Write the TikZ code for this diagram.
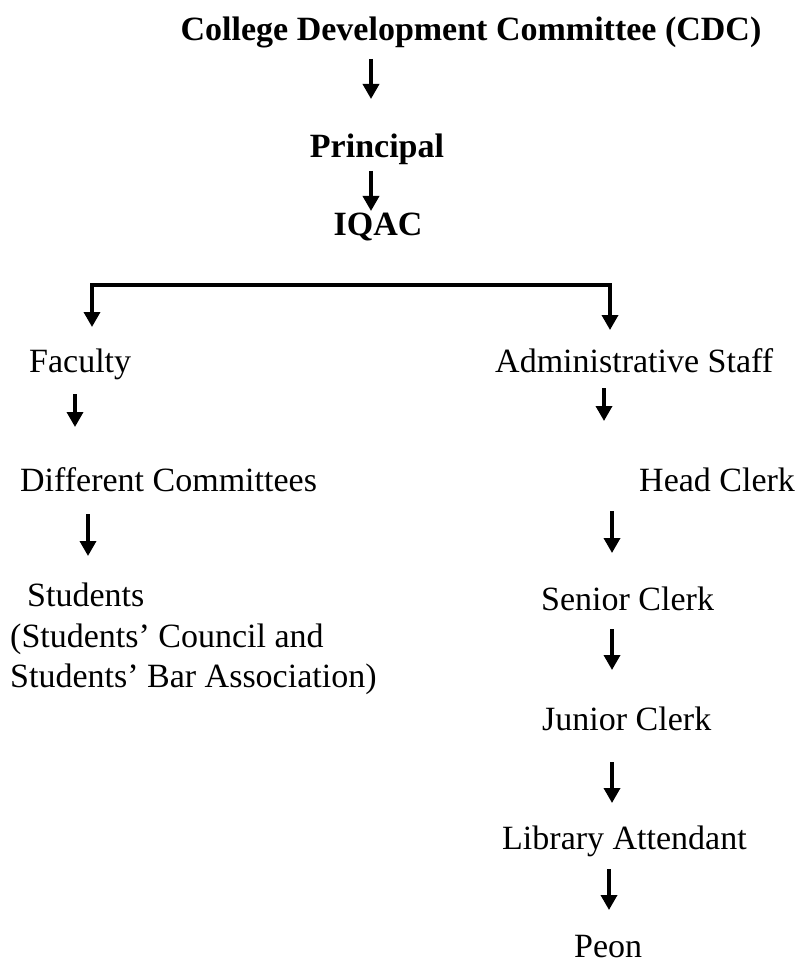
\documentclass[tikz,border=0pt]{standalone}
\usepackage{fontspec}
\setmainfont{Liberation Serif}
\usetikzlibrary{arrows.meta, positioning}
\tikzset{
  every picture/.style={>=Triangle},
  lbl/.style={inner sep=0pt, anchor=base west, font=\fontsize{34}{40.5}\selectfont},
  hd/.style={inner sep=0pt, anchor=base, font=\fontsize{34}{40}\selectfont\bfseries},
  flecha/.style={-{Triangle[width=16pt,length=15pt]}, line width=3.5pt, black},
  barra/.style={line width=3.5pt, black},
}

\begin{document}
\begin{tikzpicture}[x=1pt, y=-1pt]
  \useasboundingbox (0,0) rectangle (803,968);
  % top of the chart
  \node[hd] (cdc) at (471,41) {College Development Committee (CDC)};
  \node[hd] (prin) at (377,158) {Principal};
  \node[hd] (iqac) at (378,236) {IQAC};
  % two branches
  \node[lbl] (fac) at (29,372) {Faculty};
  \node[lbl] (dcom) at (20,491) {Different Committees};
  \node[lbl, align=left, anchor=north west] (stud) at (10,583) {\hspace{17pt}Students\\(Students' Council and\\Students' Bar Association)};
  \node[lbl] (adm) at (495,372) {Administrative Staff};
  \node[lbl] (head) at (639,491) {Head Clerk};
  \node[lbl] (sen) at (541,610) {Senior Clerk};
  \node[lbl] (jun) at (542,730) {Junior Clerk};
  \node[lbl] (lib) at (502,849) {Library Attendant};
  \node[lbl] (peon) at (574,957) {Peon};
  % arrows
  \foreach \n/\x/\ya/\yb in {a/371/59/99, b/371/171/211, c/75/394/427, d/88/514/556,
                             e/604/388/421, f/612/511/553, g/612/629/670, h/612/762/803,
                             i/609/869/910} {
    \coordinate (\n0) at (\x,\ya);
    \coordinate (\n1) at (\x,\yb);
    \draw[flecha] (\n0) -- (\n1);
  }
  \coordinate (bl) at (92,285);
  \coordinate (br) at (610,285);
  \coordinate (fl) at (92,327);
  \coordinate (fr) at (610,330);
  \draw[barra] ([xshift=-1.75pt]bl) -- ([xshift=1.75pt]br);
  \draw[flecha] (bl) -- (fl);
  \draw[flecha] (br) -- (fr);
\end{tikzpicture}
\end{document}
